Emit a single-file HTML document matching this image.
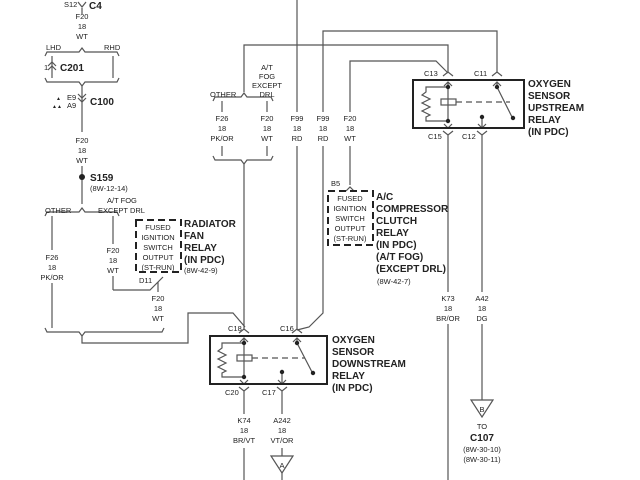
<!DOCTYPE html>
<html><head><meta charset="utf-8"><style>
html,body{margin:0;padding:0;background:#fff;}
svg{display:block;}
text{font-family:"Liberation Sans",sans-serif;fill:#222;}
.s{font-size:7.5px;}
.b{font-size:10px;font-weight:bold;}
</style></head><body>
<svg width="640" height="480" viewBox="0 0 640 480" xmlns="http://www.w3.org/2000/svg">
<g fill="none" stroke="#555" stroke-width="1.2">
<!-- left column -->
<line x1="82" y1="8" x2="82" y2="14"/>
<path d="M78,2 L82,7 L86,2"/>
<path d="M45,56 L47,52 L79,52 L82,48 L85,52 L117,52 L119,56"/>
<line x1="52" y1="56" x2="52" y2="78"/>
<path d="M48,66 L52,62 L56,66 M48,70 L52,66 L56,70"/>
<line x1="113" y1="56" x2="113" y2="78"/>
<path d="M45,78 L47,82 L79,82 L82,86 L85,82 L117,82 L119,78"/>
<path d="M78,94 L82,98 L86,94 M78,98 L82,102 L86,98"/>
<line x1="82" y1="86" x2="82" y2="132"/>
<line x1="82" y1="166" x2="82" y2="204"/>
<path d="M45,216 L47,212 L79,212 L82,208 L85,212 L117,212 L119,216"/>
<line x1="52" y1="216" x2="52" y2="250"/>
<line x1="52" y1="283" x2="52" y2="328"/>
<line x1="113" y1="216" x2="113" y2="244"/>
<line x1="113" y1="276" x2="113" y2="290"/>
<path d="M113,290 L150,290 L163,277"/>
<line x1="158" y1="282" x2="158" y2="292"/>
<path d="M45,328 L47,332 L79,332 L82,336 L85,332 L162,332 L164,328"/>
<path d="M82,336 L82,343 L188,343 L188,313 L233,313 L245,327"/>
<!-- middle top -->
<line x1="297" y1="0" x2="297" y2="112"/>
<line x1="297" y1="146" x2="297" y2="330"/>
<path d="M244,92 L244,45 L448,45 L448,72"/>
<path d="M323,112 L323,31 L497,31 L497,72"/>
<path d="M350,112 L350,61 L436,61 L448,73"/>
<path d="M213,101 L215,97 L241,97 L244,93 L247,97 L271,97 L273,101"/>
<line x1="222" y1="101" x2="222" y2="112"/>
<line x1="267" y1="101" x2="267" y2="112"/>
<line x1="222" y1="146" x2="222" y2="156"/>
<line x1="267" y1="146" x2="267" y2="156"/>
<path d="M213,156 L215,160 L241,160 L244,164 L247,160 L271,160 L273,156"/>
<line x1="244" y1="164" x2="244" y2="330"/>
<path d="M323,146 L323,313 L309,327 L297,330"/>
<line x1="350" y1="146" x2="350" y2="185"/>
<path d="M346,191 L350,187 L354,191"/>
<!-- C18/C16 chevrons -->
<path d="M239,333 L244,329 L249,333 M292,333 L297,329 L302,333"/>
<!-- downstream relay internals -->
<path d="M244,338 L244,378 M240,342 L244,338 L248,342 M240,380 L244,384 L248,380"/>
<path d="M244,343 L222,343 L222,348 L218,351 L226,355 L218,359 L226,363 L218,367 L226,371 L222,373 L222,377 L244,377"/>
<rect x="237" y="355" width="15" height="6"/>
<line x1="252" y1="358" x2="305" y2="358" stroke-dasharray="6,4"/>
<path d="M297,338 L297,343 L312,372 M293,342 L297,338 L301,342"/>
<path d="M282,374 L282,383 M278,380 L282,384 L286,380"/>
<path d="M239,387 L244,391 L249,387 M277,387 L282,391 L287,387"/>
<line x1="244" y1="391" x2="244" y2="414"/>
<line x1="244" y1="448" x2="244" y2="480"/>
<line x1="282" y1="391" x2="282" y2="414"/>
<line x1="282" y1="448" x2="282" y2="456"/>
<path d="M271,456 L293,456 L282,473 Z"/>
<line x1="282" y1="473" x2="282" y2="480"/>
<!-- upstream -->
<path d="M443,76 L448,72 L453,76 M492,76 L497,72 L502,76"/>
<path d="M448,82 L448,122 M444,86 L448,82 L452,86 M444,124 L448,128 L452,124"/>
<path d="M448,87 L426,87 L426,92 L422,95 L430,99 L422,103 L430,107 L422,111 L430,115 L426,117 L426,121 L448,121"/>
<rect x="441" y="99" width="15" height="6"/>
<line x1="456" y1="102" x2="510" y2="102" stroke-dasharray="6,4"/>
<path d="M497,82 L497,87 L512,117 M493,86 L497,82 L501,86"/>
<path d="M482,118 L482,127 M478,124 L482,128 L486,124"/>
<path d="M443,131 L448,135 L453,131 M477,131 L482,135 L487,131"/>
<line x1="448" y1="135" x2="448" y2="292"/>
<line x1="448" y1="324" x2="448" y2="480"/>
<line x1="482" y1="135" x2="482" y2="292"/>
<line x1="482" y1="324" x2="482" y2="400"/>
<path d="M471,400 L493,400 L482,417 Z"/>
</g>
<g fill="none" stroke="#222" stroke-width="2">
<rect x="210" y="336" width="117" height="48"/>
<rect x="413" y="80" width="111" height="48"/>
</g>
<g fill="none" stroke="#222" stroke-width="2" stroke-dasharray="7,4">
<rect x="136" y="220" width="45" height="52"/>
<rect x="328" y="191" width="45" height="54"/>
</g>
<g fill="#222">
<circle cx="82" cy="177" r="3"/>
<circle cx="244" cy="343" r="2.2"/><circle cx="244" cy="377" r="2.2"/>
<circle cx="297" cy="343" r="2.2"/><circle cx="313" cy="373" r="2.2"/><circle cx="282" cy="372" r="2.2"/>
<circle cx="448" cy="87" r="2.2"/><circle cx="448" cy="121" r="2.2"/>
<circle cx="497" cy="87" r="2.2"/><circle cx="513" cy="118" r="2.2"/><circle cx="482" cy="117" r="2.2"/>
</g>
<!-- text -->
<g class="s" text-anchor="middle">
<text x="82" y="19">F20</text><text x="82" y="29">18</text><text x="82" y="39">WT</text>
<text x="82" y="143">F20</text><text x="82" y="153">18</text><text x="82" y="163">WT</text>
<text x="52" y="260">F26</text><text x="52" y="270">18</text><text x="52" y="280">PK/OR</text>
<text x="113" y="253">F20</text><text x="113" y="263">18</text><text x="113" y="273">WT</text>
<text x="158" y="301">F20</text><text x="158" y="311">18</text><text x="158" y="321">WT</text>
<text x="222" y="121">F26</text><text x="222" y="131">18</text><text x="222" y="141">PK/OR</text>
<text x="267" y="121">F20</text><text x="267" y="131">18</text><text x="267" y="141">WT</text>
<text x="297" y="121">F99</text><text x="297" y="131">18</text><text x="297" y="141">RD</text>
<text x="323" y="121">F99</text><text x="323" y="131">18</text><text x="323" y="141">RD</text>
<text x="350" y="121">F20</text><text x="350" y="131">18</text><text x="350" y="141">WT</text>
<text x="267" y="70">A/T</text><text x="267" y="79">FOG</text><text x="267" y="88">EXCEPT</text><text x="267" y="97">DRL</text>
<text x="244" y="423">K74</text><text x="244" y="433">18</text><text x="244" y="443">BR/VT</text>
<text x="282" y="423">A242</text><text x="282" y="433">18</text><text x="282" y="443">VT/OR</text>
<text x="448" y="301">K73</text><text x="448" y="311">18</text><text x="448" y="321">BR/OR</text>
<text x="482" y="301">A42</text><text x="482" y="311">18</text><text x="482" y="321">DG</text>
<text x="282" y="468">A</text><text x="482" y="412">B</text>
<text x="482" y="429">TO</text>
<text x="482" y="452">(8W-30-10)</text><text x="482" y="462">(8W-30-11)</text>
<text x="158" y="230">FUSED</text><text x="158" y="240">IGNITION</text><text x="158" y="250">SWITCH</text><text x="158" y="260">OUTPUT</text><text x="158" y="270">(ST-RUN)</text>
<text x="350" y="201">FUSED</text><text x="350" y="211">IGNITION</text><text x="350" y="221">SWITCH</text><text x="350" y="231">OUTPUT</text><text x="350" y="241">(ST-RUN)</text>
</g>
<g class="s">
<text x="64" y="7">S12</text>
<text x="46" y="50">LHD</text><text x="104" y="50">RHD</text>
<text x="44" y="70">1</text>
<text x="67" y="100">E9</text><text x="67" y="108">A9</text>
<text x="56" y="100" font-size="5">▲</text><text x="52" y="108" font-size="5">▲▲</text>
<text x="90" y="191">(8W-12-14)</text>
<text x="45" y="213">OTHER</text>
<text x="107" y="203">A/T FOG</text><text x="98" y="213">EXCEPT DRL</text>
<text x="139" y="283">D11</text>
<text x="184" y="273">(8W-42-9)</text>
<text x="210" y="97">OTHER</text>
<text x="228" y="331">C18</text><text x="280" y="331">C16</text>
<text x="225" y="395">C20</text><text x="262" y="395">C17</text>
<text x="331" y="186">B5</text>
<text x="377" y="284">(8W-42-7)</text>
<text x="424" y="76">C13</text><text x="474" y="76">C11</text>
<text x="428" y="139">C15</text><text x="462" y="139">C12</text>
</g>
<g class="b">
<text x="89" y="9">C4</text>
<text x="60" y="71">C201</text>
<text x="90" y="105">C100</text>
<text x="90" y="181">S159</text>
<text x="184" y="227">RADIATOR</text><text x="184" y="239">FAN</text><text x="184" y="251">RELAY</text><text x="184" y="263">(IN PDC)</text>
<text x="376" y="200">A/C</text><text x="376" y="212">COMPRESSOR</text><text x="376" y="224">CLUTCH</text><text x="376" y="236">RELAY</text><text x="376" y="248">(IN PDC)</text><text x="376" y="260">(A/T FOG)</text><text x="376" y="272">(EXCEPT DRL)</text>
<text x="332" y="343">OXYGEN</text><text x="332" y="355">SENSOR</text><text x="332" y="367">DOWNSTREAM</text><text x="332" y="379">RELAY</text><text x="332" y="391">(IN PDC)</text>
<text x="528" y="87">OXYGEN</text><text x="528" y="99">SENSOR</text><text x="528" y="111">UPSTREAM</text><text x="528" y="123">RELAY</text><text x="528" y="135">(IN PDC)</text>
<text x="482" y="441" text-anchor="middle">C107</text>
</g>
</svg>
</body></html>
